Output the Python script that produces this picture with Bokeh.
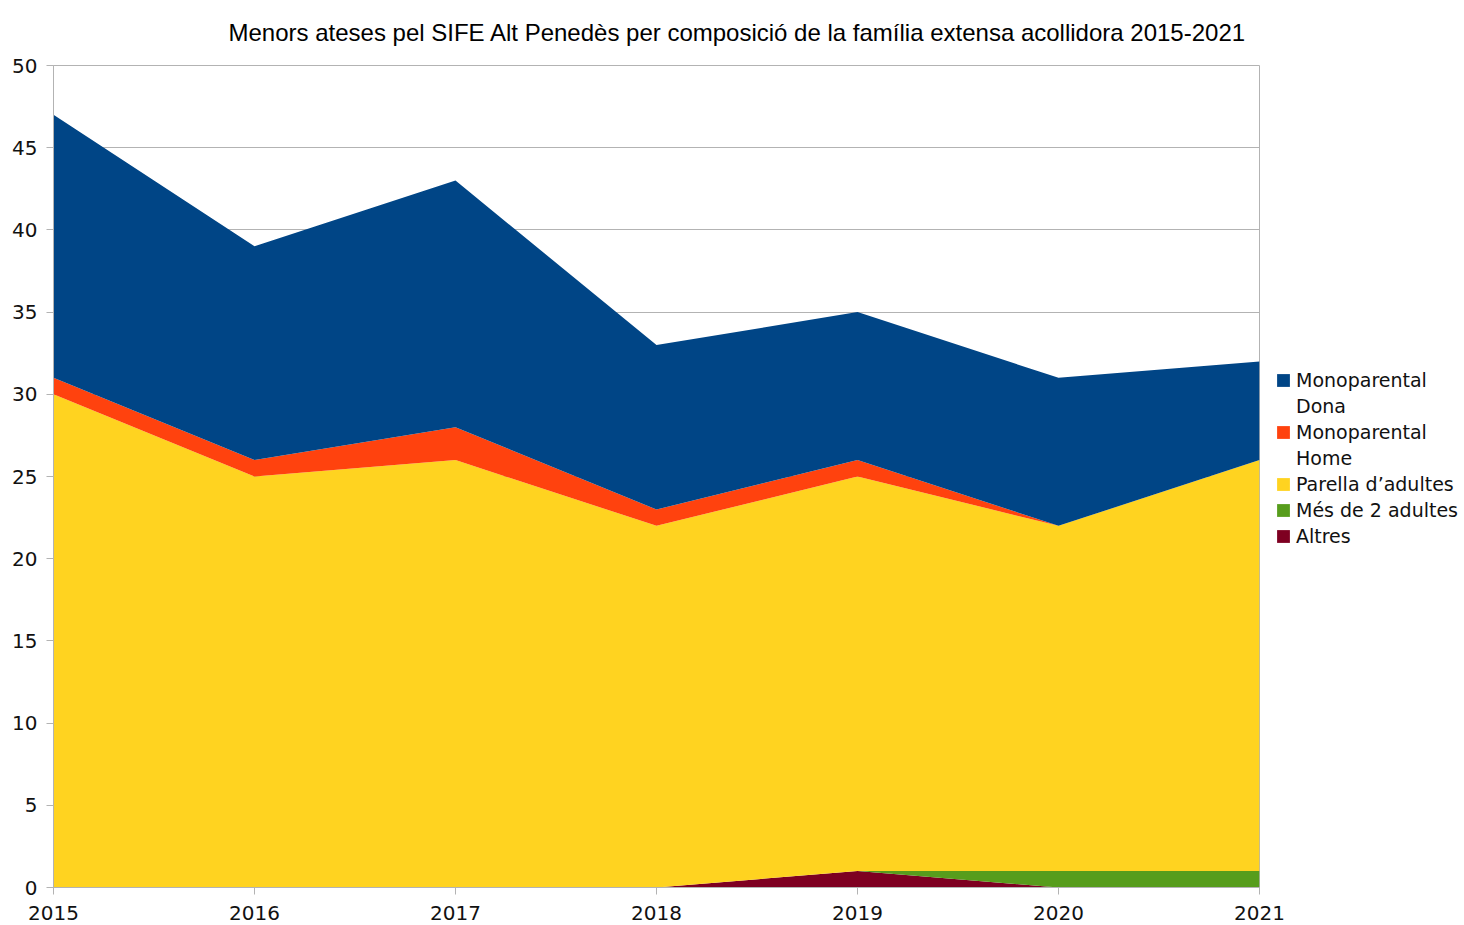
from bokeh.plotting import figure
from bokeh.models import Legend, LegendItem, ColumnDataSource, Title, FixedTicker, Range1d
from bokeh.embed import file_html
from bokeh.resources import INLINE

years = [2015, 2016, 2017, 2018, 2019, 2020, 2021]
altres = [0, 0, 0, 0, 1, 0, 0]
mes_de_2 = [0, 0, 0, 0, 0, 1, 1]
parella = [30, 25, 26, 22, 24, 21, 25]
mono_home = [1, 1, 2, 1, 1, 0, 0]
mono_dona = [16, 13, 15, 10, 9, 9, 6]

series = ["altres", "mes_de_2", "parella", "mono_home", "mono_dona"]
# legend lines: (text, series index or None for a continuation line)
legend_lines = [("Monoparental", 4), ("Dona", None), ("Monoparental", 3), ("Home", None),
                ("Parella d’adultes", 2), ("Més de 2 adultes", 1), ("Altres", 0)]
colors = ["#7e0021", "#579d1c", "#ffd320", "#ff420e", "#004586"]

src = ColumnDataSource(dict(year=years, altres=altres, mes_de_2=mes_de_2, parella=parella,
                            mono_home=mono_home, mono_dona=mono_dona))

p = figure(frame_width=1206, frame_height=822, output_backend="svg", toolbar_location=None,
           x_range=Range1d(2015, 2021), y_range=Range1d(0, 50),
           min_border_left=53, min_border_right=0, min_border_top=65, min_border_bottom=36)

renderers = p.varea_stack(stackers=series, x="year", color=colors, source=src)
blank = p.varea(x=[], y1=[], y2=[], fill_alpha=0)

p.title = Title(text="Menors ateses pel SIFE Alt Penedès per composició de la família extensa acollidora 2015-2021",
                align="left", text_font="Liberation Sans", text_font_size="24px",
                text_font_style="normal", text_color="#000000", offset=175, standoff=36,
                vertical_align="top")

grid_col = "#b3b3b3"
p.xgrid.grid_line_color = None
p.ygrid.grid_line_color = grid_col
p.ygrid.ticker = FixedTicker(ticks=list(range(0, 51, 5)))
p.outline_line_color = grid_col

p.xaxis.ticker = FixedTicker(ticks=years)
p.yaxis.ticker = FixedTicker(ticks=list(range(0, 51, 5)))
for ax in (p.xaxis[0], p.yaxis[0]):
    ax.axis_line_color = grid_col
    ax.major_tick_line_color = grid_col
    ax.minor_tick_line_color = None
    ax.major_tick_out = 7
    ax.major_tick_in = 0
    ax.major_label_text_font = "DejaVu Sans"
    ax.major_label_text_font_size = "20px"
    ax.major_label_text_color = "#111111"
p.xaxis.major_label_standoff = 11
p.yaxis.major_label_standoff = 9

items = [LegendItem(label=t, renderers=[renderers[i] if i is not None else blank]) for t, i in legend_lines]
legend = Legend(items=items, location=(16, 340), border_line_color=None, background_fill_alpha=0,
                label_text_font="DejaVu Sans", label_text_font_size="19px", label_text_color="#111111",
                glyph_width=16, glyph_height=16, spacing=3, padding=0, margin=0,
                label_standoff=5, label_height=23)
p.add_layout(legend, "right")

open("out.html", "w").write(file_html(p, INLINE))
